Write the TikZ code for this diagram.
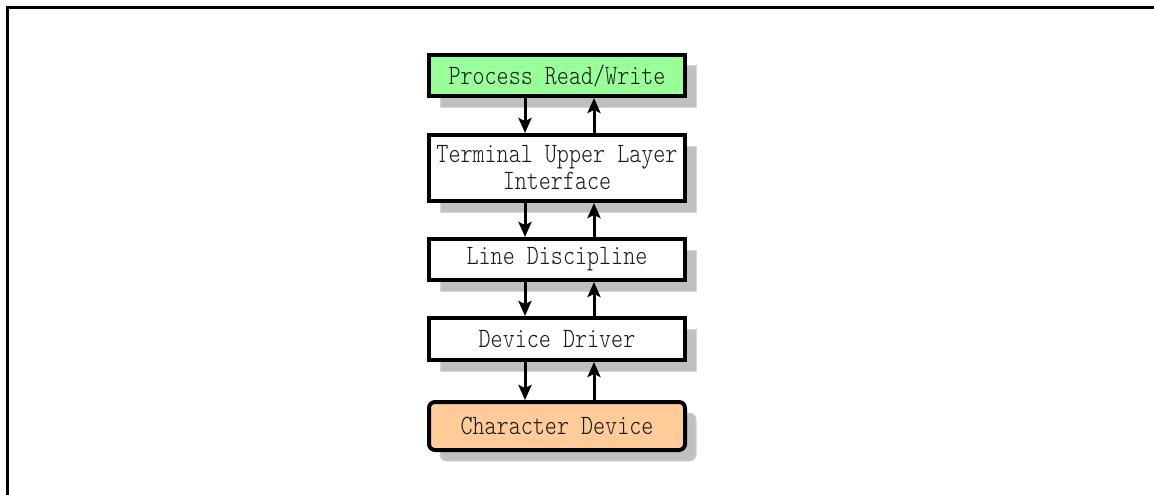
\documentclass[tikz,border=0pt]{standalone}
\usepackage{fontspec}
\newfontfamily\boxfont[FakeStretch=0.82]{lmmonolt10-regular.otf}
\usetikzlibrary{arrows.meta}
\definecolor{pgreen}{RGB}{153,255,153}
\definecolor{porange}{RGB}{255,204,153}
\definecolor{shgray}{RGB}{192,192,192}
\definecolor{shedge}{RGB}{214,214,214}
\tikzset{
  layer/.style={draw=black, line width=4pt, fill=white, minimum width=256pt,
    inner sep=0pt, font=\boxfont\fontsize{28}{27}\selectfont, align=center, text=black!90},
  shadowbox/.style={fill=shgray, draw=shedge, line width=1pt},
  flow/.style={line width=3pt, -{Stealth[length=15pt, width=13pt, inset=3pt]}},
  frameline/.style={line width=3pt}
}
\begin{document}
\begin{tikzpicture}[x=1pt, y=-1pt]
\useasboundingbox (0,0) rectangle (1154,495);
\fill[white] (0,0) rectangle (1154,495);
% frame (top and left only)
\draw[frameline] (7.5,495) -- (7.5,7.5) -- (1154,7.5);
% shadows
\draw[shadowbox] (440,66) rectangle (696,107);
\draw[shadowbox] (440,146) rectangle (696,212);
\draw[shadowbox] (440,250) rectangle (696,291);
\draw[shadowbox] (440,329) rectangle (696,371);
\draw[shadowbox, rounded corners=6pt] (440,413) rectangle (696,461);
% boxes
\node[layer, fill=pgreen, minimum height=41pt] (prw) at (557,75.5) {Process Read/Write};
\node[layer, minimum height=66pt] (tul) at (557,168) {Terminal Upper Layer\\Interface};
\node[layer, minimum height=41pt] (ld) at (557,259.5) {Line Discipline};
\node[layer, minimum height=42pt] (dd) at (557,339) {Device Driver};
\node[layer, fill=porange, rounded corners=6pt, minimum height=48pt] (cd) at (557,426) {Character Device};
% connectors
\foreach \a/\b in {prw/tul, tul/ld, ld/dd, dd/cd}{
  \draw[flow] ([xshift=-32pt]\a.south) -- ([xshift=-32pt]\b.north);
  \draw[flow] ([xshift=37pt]\b.north) -- ([xshift=37pt]\a.south);
}
\end{tikzpicture}
\end{document}
